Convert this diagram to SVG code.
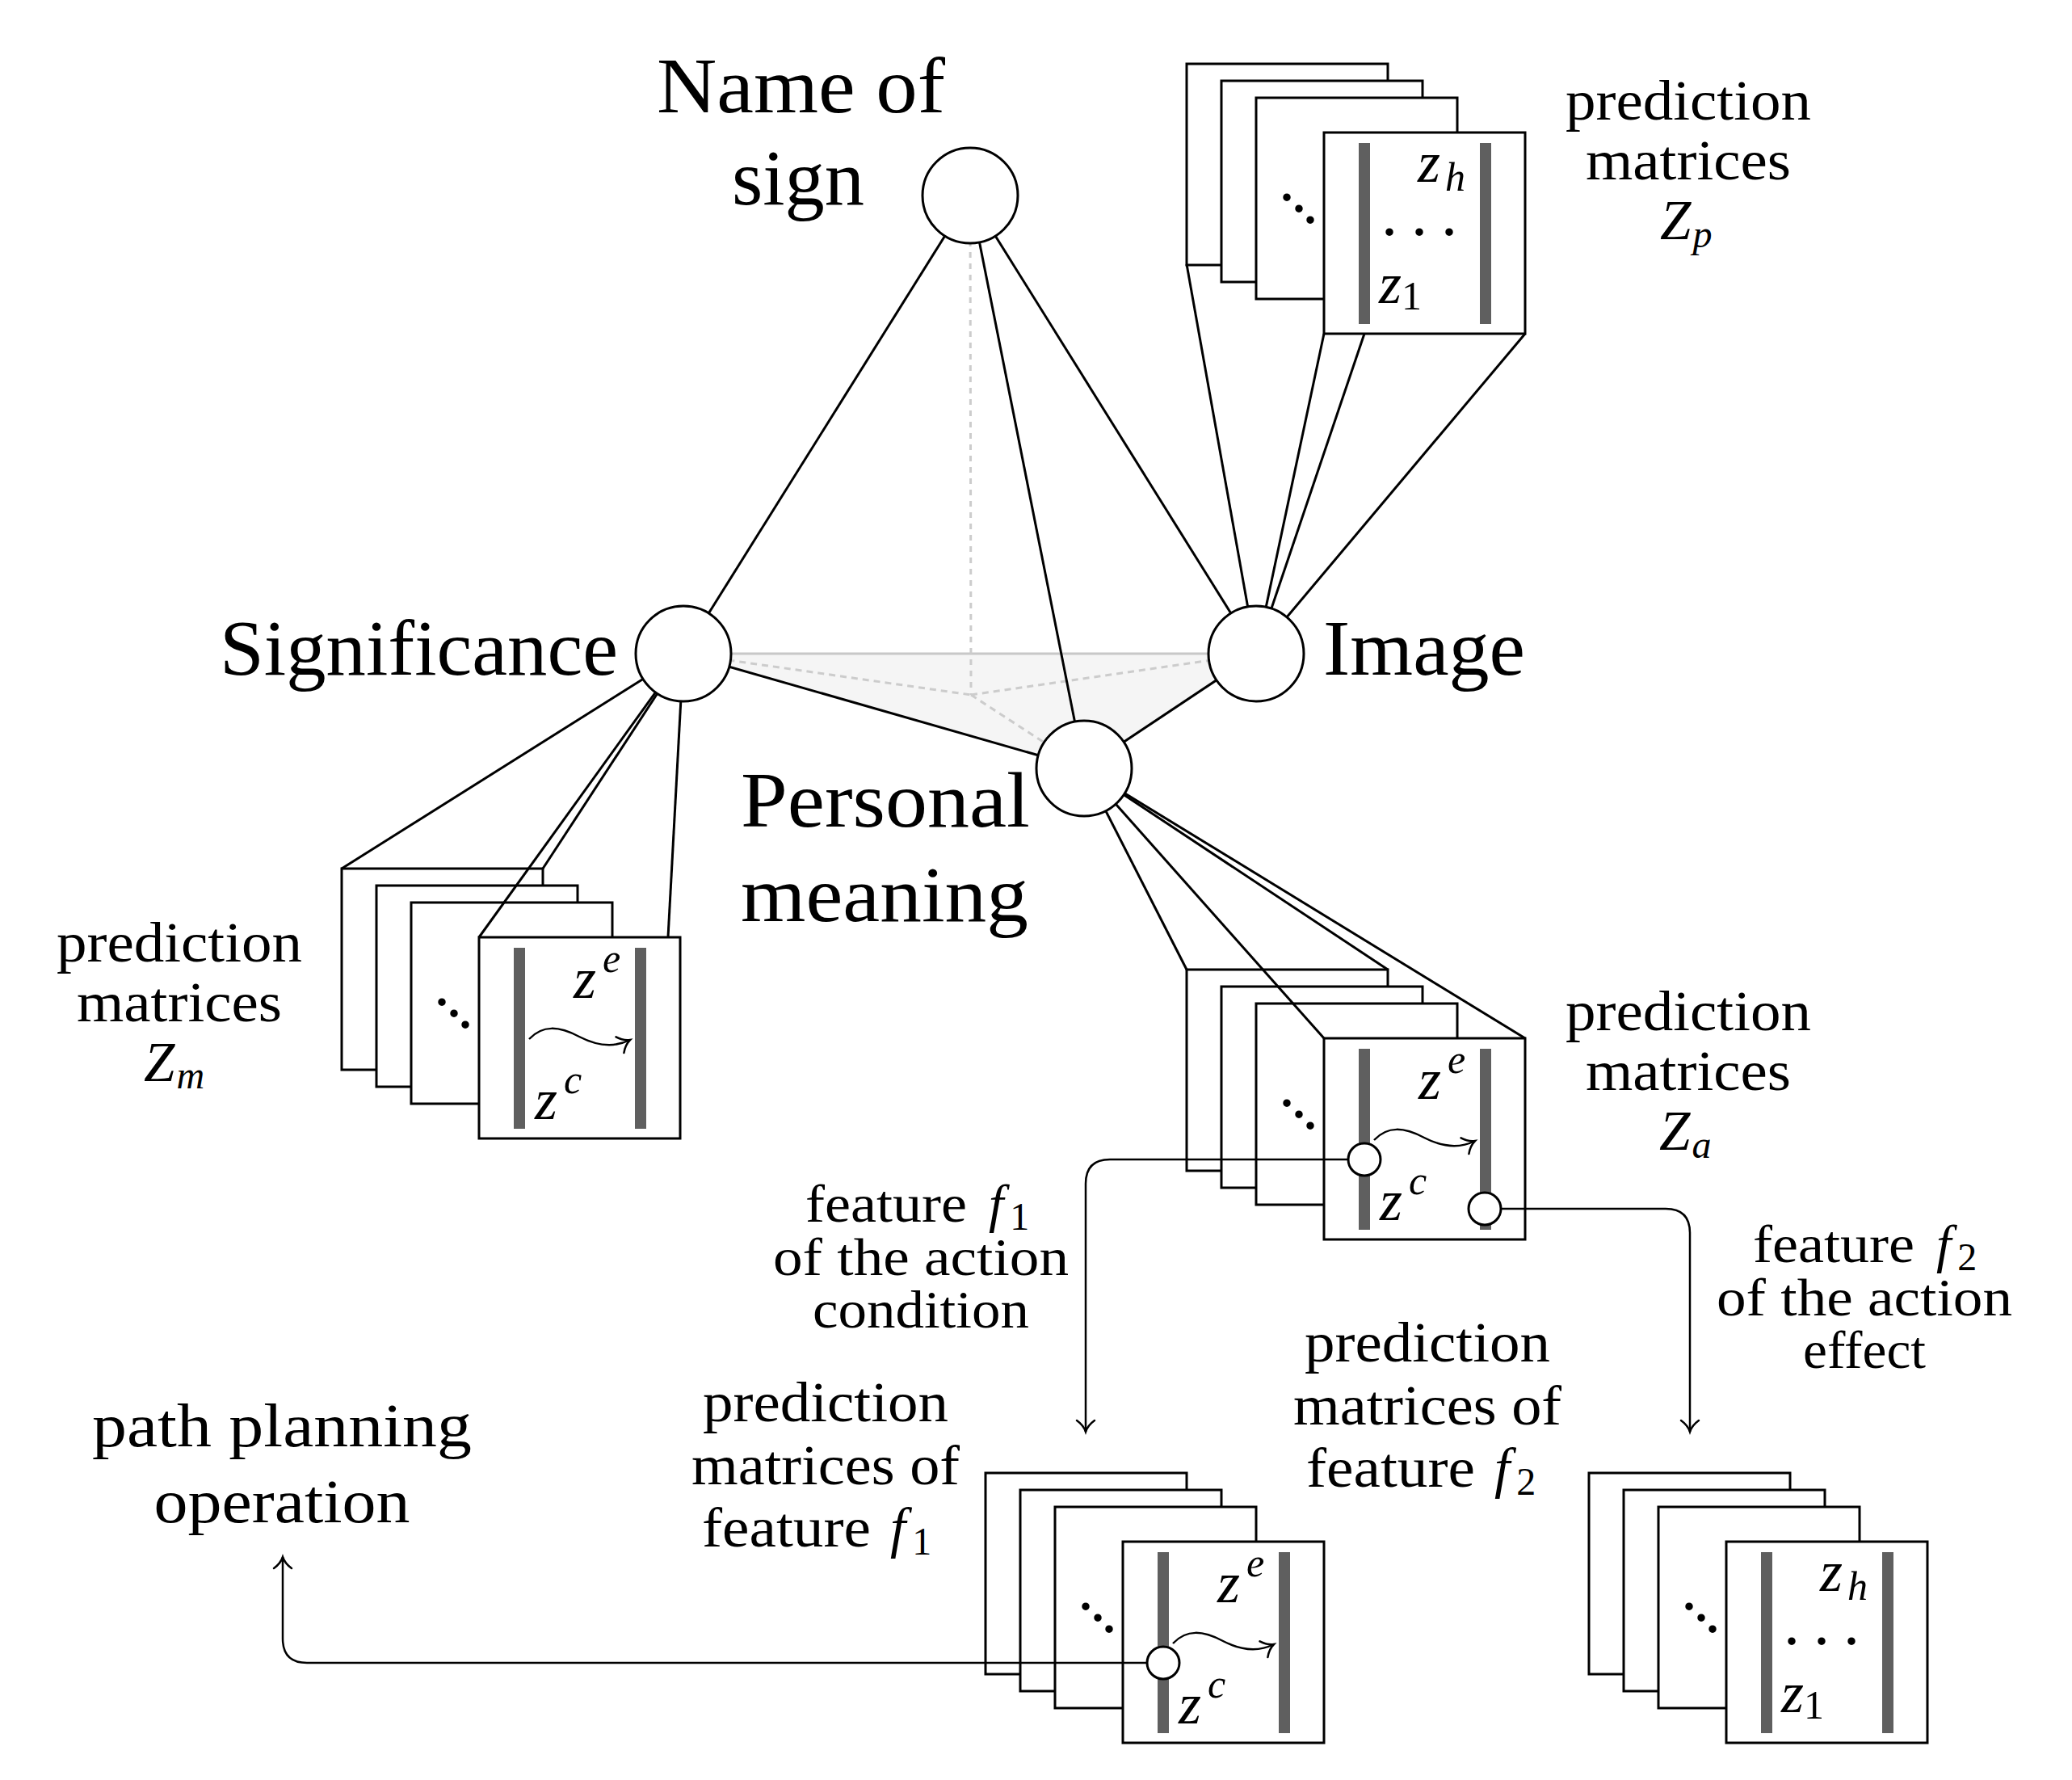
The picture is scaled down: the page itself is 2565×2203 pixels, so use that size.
<svg xmlns="http://www.w3.org/2000/svg" width="2565" height="2203" viewBox="0 0 2565 2203">
<defs>
<style>
text{font-family:"Liberation Serif","Times New Roman",serif;fill:#000}
.big{font-size:97px}
.lbl{font-size:69px}
.flb{font-size:66px}
.path{font-size:77px}
.it{font-style:italic}
.up{font-style:normal}
.zz{font-size:72px;font-style:italic}
.sc{font-size:50px}
.sub{font-size:48px}
.dots{font-size:80px}
.fr{fill:#fff;stroke:#000;stroke-width:3}
.bar{fill:#5f5f5f}
.node{fill:#fff;stroke:#000;stroke-width:3}
.edge{stroke:#000;stroke-width:3;fill:none}
.conn{stroke:#000;stroke-width:2.5;fill:none}
.ghost{stroke:#c8c8c8;stroke-width:3;fill:none}
.dash{stroke:#cccccc;stroke-width:3;fill:none;stroke-dasharray:8 6}
.dot{stroke:#cccccc;stroke-width:3;fill:none;stroke-dasharray:7 7}
.pc{fill:#fff;stroke:#000;stroke-width:3}
</style>
<marker id="arr" markerUnits="userSpaceOnUse" markerWidth="40" markerHeight="40" viewBox="-20 -20 40 40" refX="0" refY="0" orient="auto" overflow="visible">
<path d="M -14 -11 C -9 -4 -3 -1 0 0 C -3 1 -9 4 -14 11" fill="none" stroke="#000" stroke-width="2.5" stroke-linecap="round"/>
</marker>
<g id="frames">
<rect class="fr" x="0" y="0" width="249" height="249"/>
<rect class="fr" x="43" y="21" width="249" height="249"/>
<rect class="fr" x="86" y="42" width="249" height="249"/>
<rect class="fr" x="170" y="85" width="249" height="249"/>
<rect class="bar" x="213" y="98" width="14" height="224"/>
<rect class="bar" x="363" y="98" width="14" height="224"/>
</g>
<path id="wave" d="M 232 211 C 249 193 269 195 294 208 C 319 221 339 221 357 212" class="conn" marker-end="url(#arr)"/>
</defs>
<rect x="0" y="0" width="2565" height="2203" fill="#fff"/>

<g id="plane">
<polygon points="846,809 1555,809 1342,951" fill="#f5f5f5"/>
<line class="ghost" x1="846" y1="809" x2="1555" y2="809"/>
<line class="dash" x1="846" y1="809" x2="1202" y2="860"/>
<line class="dash" x1="1202" y1="860" x2="1555" y2="809"/>
<line class="dash" x1="1202" y1="860" x2="1342" y2="951"/>
<line class="dot" x1="1201" y1="242" x2="1202" y2="860"/>
</g>

<g id="edges">
<line class="edge" x1="1201" y1="242" x2="846" y2="809"/>
<line class="edge" x1="1201" y1="242" x2="1555" y2="809"/>
<line class="edge" x1="1201" y1="242" x2="1342" y2="951"/>
<line class="edge" x1="846" y1="809" x2="1342" y2="951"/>
<line class="edge" x1="1342" y1="951" x2="1555" y2="809"/>
</g>

<g id="stack-image" transform="translate(1469,79)">
<use href="#frames"/>
<text class="dots" x="114 129 143" y="169 183 197">...</text>
<text class="dots" x="241 278 315" y="212">...</text>
<text class="zz" x="286" y="146">z<tspan class="sc" dx="6" dy="11">h</tspan></text>
<text class="zz" x="238" y="296">z<tspan class="sc up" dx="0" dy="8">1</tspan></text>
</g>

<g id="stack-significance" transform="translate(423,1075)">
<use href="#frames"/>
<text class="dots" x="114 129 143" y="169 183 197">...</text>
<use href="#wave"/>
<text class="zz" x="287" y="160">z<tspan class="sc" dx="8" dy="-32">e</tspan></text>
<text class="zz" x="239" y="310">z<tspan class="sc" dx="8" dy="-32">c</tspan></text>
</g>

<g id="stack-personal" transform="translate(1469,1200)">
<use href="#frames"/>
<text class="dots" x="114 129 143" y="169 183 197">...</text>
<use href="#wave"/>
<text class="zz" x="287" y="160">z<tspan class="sc" dx="8" dy="-32">e</tspan></text>
<text class="zz" x="239" y="310">z<tspan class="sc" dx="8" dy="-32">c</tspan></text>
<circle class="pc" cx="220" cy="235" r="20"/>
<circle class="pc" cx="369" cy="296" r="20"/>
</g>

<g id="stack-f1" transform="translate(1220,1823)">
<use href="#frames"/>
<text class="dots" x="114 129 143" y="169 183 197">...</text>
<use href="#wave"/>
<text class="zz" x="287" y="160">z<tspan class="sc" dx="8" dy="-32">e</tspan></text>
<text class="zz" x="239" y="310">z<tspan class="sc" dx="8" dy="-32">c</tspan></text>
<circle class="pc" cx="220" cy="235" r="20"/>
</g>

<g id="stack-f2" transform="translate(1967,1823)">
<use href="#frames"/>
<text class="dots" x="114 129 143" y="169 183 197">...</text>
<text class="dots" x="241 278 315" y="212">...</text>
<text class="zz" x="286" y="146">z<tspan class="sc" dx="6" dy="11">h</tspan></text>
<text class="zz" x="238" y="296">z<tspan class="sc up" dx="0" dy="8">1</tspan></text>
</g>

<g id="stack-edges">
<line class="edge" x1="1555" y1="809" x2="1469" y2="327"/>
<line class="edge" x1="1555" y1="809" x2="1639" y2="413"/>
<line class="edge" x1="1555" y1="809" x2="1689" y2="413"/>
<line class="edge" x1="1555" y1="809" x2="1888" y2="413"/>
<line class="edge" x1="846" y1="809" x2="423" y2="1075"/>
<line class="edge" x1="846" y1="809" x2="672" y2="1075"/>
<line class="edge" x1="846" y1="809" x2="593" y2="1160"/>
<line class="edge" x1="846" y1="809" x2="827" y2="1160"/>
<line class="edge" x1="1342" y1="951" x2="1469" y2="1200"/>
<line class="edge" x1="1342" y1="951" x2="1639" y2="1285"/>
<line class="edge" x1="1342" y1="951" x2="1718" y2="1200"/>
<line class="edge" x1="1342" y1="951" x2="1888" y2="1285"/>
</g>

<g id="connectors">
<path class="conn" d="M 1669 1435 H 1374 Q 1344 1435 1344 1465 V 1772" marker-end="url(#arr)"/>
<path class="conn" d="M 1858 1496 H 2062 Q 2092 1496 2092 1526 V 1772" marker-end="url(#arr)"/>
<path class="conn" d="M 1420 2058 H 380 Q 350 2058 350 2028 V 1927" marker-end="url(#arr)"/>
</g>

<g id="node-name">
<circle class="node" cx="1201" cy="242" r="59"/>
<text class="big" x="813" y="139" textLength="357" lengthAdjust="spacingAndGlyphs">Name of</text>
<text class="big" x="906" y="253" textLength="164" lengthAdjust="spacingAndGlyphs">sign</text>
</g>
<g id="node-significance">
<circle class="node" cx="846" cy="809" r="59"/>
<text class="big" x="272" y="835" textLength="493" lengthAdjust="spacingAndGlyphs">Significance</text>
</g>
<g id="node-image">
<circle class="node" cx="1555" cy="809" r="59"/>
<text class="big" x="1638" y="835" textLength="250" lengthAdjust="spacingAndGlyphs">Image</text>
</g>
<g id="node-personal">
<circle class="node" cx="1342" cy="951" r="59"/>
<text class="big" x="917" y="1023" textLength="358" lengthAdjust="spacingAndGlyphs">Personal</text>
<text class="big" x="917" y="1140" textLength="356" lengthAdjust="spacingAndGlyphs">meaning</text>
</g>

<g id="labels">
<text class="lbl" x="2090" y="148" text-anchor="middle" textLength="304" lengthAdjust="spacingAndGlyphs">prediction</text>
<text class="lbl" x="2090" y="222" text-anchor="middle" textLength="254" lengthAdjust="spacingAndGlyphs">matrices</text>
<text class="lbl it" x="2055" y="296">Z<tspan class="sub" dx="2" dy="10">p</tspan></text>

<text class="lbl" x="222" y="1190" text-anchor="middle" textLength="304" lengthAdjust="spacingAndGlyphs">prediction</text>
<text class="lbl" x="222" y="1264" text-anchor="middle" textLength="254" lengthAdjust="spacingAndGlyphs">matrices</text>
<text class="lbl it" x="178" y="1338">Z<tspan class="sub" dx="2" dy="9">m</tspan></text>

<text class="lbl" x="2090" y="1275" text-anchor="middle" textLength="304" lengthAdjust="spacingAndGlyphs">prediction</text>
<text class="lbl" x="2090" y="1349" text-anchor="middle" textLength="254" lengthAdjust="spacingAndGlyphs">matrices</text>
<text class="lbl it" x="2054" y="1423">Z<tspan class="sub" dx="2" dy="10">a</tspan></text>

<text class="flb" x="997" y="1512"><tspan textLength="200" lengthAdjust="spacingAndGlyphs">feature</tspan><tspan class="it" x="1224">f</tspan><tspan class="sub up" dx="8" dy="10">1</tspan></text>
<text class="flb" x="1140" y="1578" text-anchor="middle" textLength="366" lengthAdjust="spacingAndGlyphs">of the action</text>
<text class="flb" x="1140" y="1643" text-anchor="middle" textLength="268" lengthAdjust="spacingAndGlyphs">condition</text>

<text class="flb" x="2170" y="1562"><tspan textLength="200" lengthAdjust="spacingAndGlyphs">feature</tspan><tspan class="it" x="2397">f</tspan><tspan class="sub up" dx="8" dy="10">2</tspan></text>
<text class="flb" x="2308" y="1628" text-anchor="middle" textLength="366" lengthAdjust="spacingAndGlyphs">of the action</text>
<text class="flb" x="2308" y="1693" text-anchor="middle" textLength="152" lengthAdjust="spacingAndGlyphs">effect</text>

<text class="lbl" x="1767" y="1685" text-anchor="middle" textLength="304" lengthAdjust="spacingAndGlyphs">prediction</text>
<text class="lbl" x="1767" y="1763" text-anchor="middle" textLength="332" lengthAdjust="spacingAndGlyphs">matrices of</text>
<text class="lbl" x="1617" y="1840"><tspan textLength="209" lengthAdjust="spacingAndGlyphs">feature</tspan><tspan class="it" x="1850">f</tspan><tspan class="sub up" dx="8" dy="10">2</tspan></text>

<text class="lbl" x="1022" y="1759" text-anchor="middle" textLength="304" lengthAdjust="spacingAndGlyphs">prediction</text>
<text class="lbl" x="1022" y="1837" text-anchor="middle" textLength="332" lengthAdjust="spacingAndGlyphs">matrices of</text>
<text class="lbl" x="869" y="1914"><tspan textLength="209" lengthAdjust="spacingAndGlyphs">feature</tspan><tspan class="it" x="1102">f</tspan><tspan class="sub up" dx="8" dy="10">1</tspan></text>

<text class="path" x="349" y="1790" text-anchor="middle" textLength="470" lengthAdjust="spacingAndGlyphs">path planning</text>
<text class="path" x="349" y="1884" text-anchor="middle" textLength="317" lengthAdjust="spacingAndGlyphs">operation</text>
</g>
</svg>
